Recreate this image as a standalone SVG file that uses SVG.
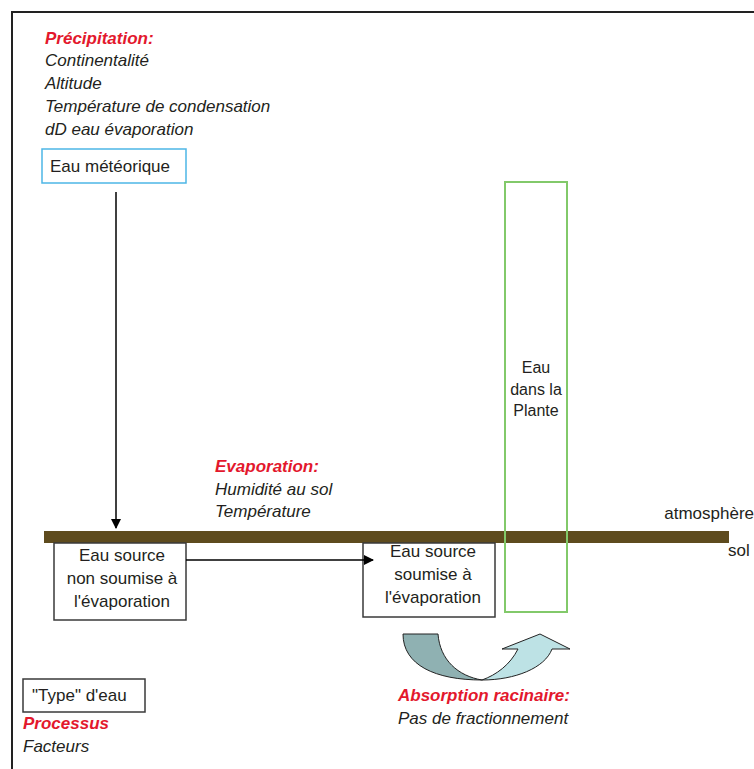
<svg xmlns="http://www.w3.org/2000/svg" width="754" height="769" viewBox="0 0 754 769">
<style>
text{font-family:"Liberation Sans",Arial,sans-serif;font-size:17px;fill:#231f20}
.it{font-style:italic}
.red{fill:#e3182d;font-weight:bold;font-style:italic}
.box{fill:#fff;stroke:#3a3a3a;stroke-width:1.5}
.mid{text-anchor:middle}
.sm{font-size:16px}
.conn{stroke:#000;stroke-width:1.5;fill:none}
</style>
<defs>
<marker id="ah" markerWidth="10" markerHeight="10" refX="9" refY="5" orient="auto" markerUnits="userSpaceOnUse">
<path d="M0,0 L10,5 L0,10 Z" fill="#000"/>
</marker>
</defs>
<rect width="754" height="769" fill="#fff"/>
<path d="M12,769 V12 H754" fill="none" stroke="#222" stroke-width="2"/>

<g id="legend-precipitation">
<text x="45" y="44" class="red">Précipitation:</text>
<text x="45" y="66" class="it">Continentalité</text>
<text x="45" y="89" class="it">Altitude</text>
<text x="45" y="112" class="it">Température de condensation</text>
<text x="45" y="135" class="it">dD eau évaporation</text>
</g>

<g id="eau-meteorique">
<rect x="42" y="149" width="144" height="34" fill="#fff" stroke="#4db6e6" stroke-width="1.5"/>
<text x="50" y="172">Eau météorique</text>
</g>

<g id="sol-bar">
<rect x="44" y="531" width="685" height="12" fill="#5e4b1e"/>
<text x="754" y="519" text-anchor="end">atmosphère</text>
<text x="728" y="556">sol</text>
</g>

<g id="evaporation-label">
<text x="215" y="472" class="red">Evaporation:</text>
<text x="215" y="495" class="it">Humidité au sol</text>
<text x="215" y="517" class="it">Température</text>
</g>

<g id="eau-plante">
<rect x="505" y="182" width="62" height="430" fill="none" stroke="#82c96a" stroke-width="2"/>
<text x="536" y="373" class="mid sm">Eau</text>
<text x="536" y="395" class="mid sm">dans la</text>
<text x="536" y="416" class="mid sm">Plante</text>
</g>

<g id="eau-non-soumise">
<rect x="54" y="543" width="132" height="77" class="box"/>
<text x="122" y="561" class="mid">Eau source</text>
<text x="122" y="584" class="mid">non soumise à</text>
<text x="122" y="607" class="mid">l'évaporation</text>
</g>

<g id="eau-soumise">
<rect x="363" y="543" width="132" height="74" class="box"/>
<text x="433" y="557" class="mid">Eau source</text>
<text x="433" y="580" class="mid">soumise à</text>
<text x="433" y="603" class="mid">l'évaporation</text>
</g>

<g id="connectors">
<line x1="116" y1="192" x2="116" y2="528" class="conn" marker-end="url(#ah)"/>
<line x1="186" y1="560" x2="373" y2="560" class="conn" marker-end="url(#ah)"/>
</g>

<g id="absorption">
<path d="M403,634 L438,634 C440,660 458,676 482,680 C435,680 403,665 403,634 Z" fill="#8fb1b2" stroke="#222" stroke-width="1"/>
<path d="M482,680 C515,680 545,668 552,649 L570,649 L540,634 L502,649 L518,649 C510,665 496,675 482,680 Z" fill="#bde2e5" stroke="#222" stroke-width="1"/>
<text x="398" y="701" class="red">Absorption racinaire:</text>
<text x="398" y="724" class="it">Pas de fractionnement</text>
</g>

<g id="legend-key">
<rect x="23" y="679" width="122" height="33" class="box"/>
<text x="32" y="701">"Type" d'eau</text>
<text x="23" y="729" class="red">Processus</text>
<text x="23" y="752" class="it">Facteurs</text>
</g>
</svg>
